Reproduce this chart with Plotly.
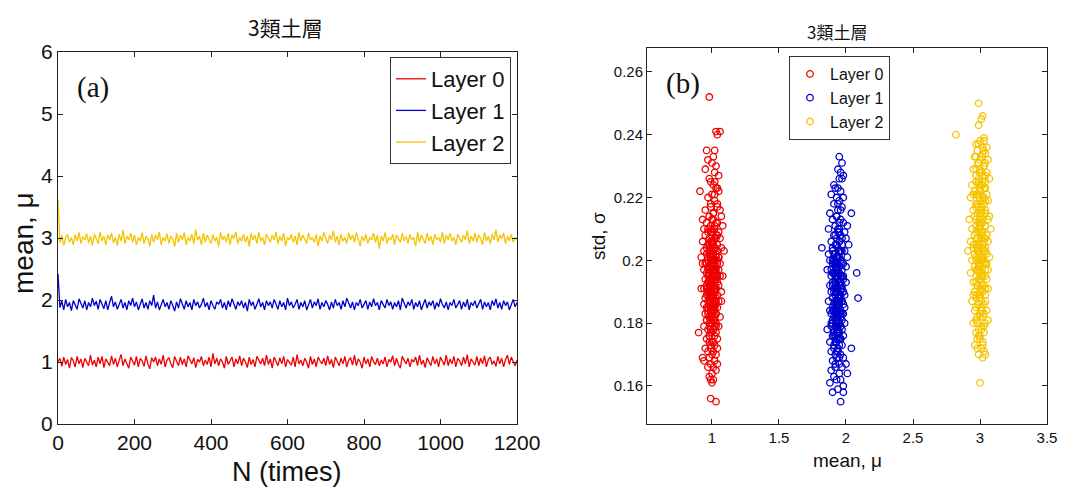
import plotly.graph_objects as go

# ---------------- data: panel (a) ----------------
N = list(range(0, 1201, 5))

layer0_mean = [
1.00,1.06,0.93,1.08,0.96,1.04,0.90,1.07,1.02,0.92,
1.09,0.97,1.05,0.91,1.06,1.00,0.94,1.11,0.95,1.03,
0.92,1.08,0.97,1.09,0.91,1.05,1.00,0.94,1.10,0.96,
1.06,0.92,1.03,1.12,0.94,1.05,0.97,0.90,1.08,1.00,
0.95,1.09,0.92,1.06,1.02,0.93,1.10,0.97,0.89,1.07,
1.00,1.08,0.94,1.05,0.96,1.11,0.92,1.03,1.07,0.97,
0.91,1.09,1.00,0.94,1.08,0.96,1.05,0.92,1.10,1.02,
0.97,1.07,0.91,1.04,1.00,1.09,0.94,1.03,0.96,1.08,
0.92,1.14,0.97,1.06,0.94,1.05,1.00,0.90,1.09,0.96,
1.03,1.08,0.92,1.05,0.97,1.10,0.94,1.06,1.00,0.91,
1.08,0.96,1.04,0.92,1.09,1.02,0.97,1.06,0.94,1.11,
0.96,1.05,0.90,1.08,1.00,0.94,1.07,0.97,1.09,0.92,
1.04,1.00,0.95,1.08,0.92,1.12,0.97,1.03,0.94,1.06,
1.00,0.90,1.09,0.96,1.05,0.92,1.08,1.02,0.97,1.06,
0.94,1.10,0.96,1.04,0.91,1.08,1.00,0.94,1.06,0.97,
1.09,0.92,1.03,1.07,0.95,1.11,0.94,1.05,1.00,0.90,
1.08,0.97,1.05,0.92,1.09,1.00,0.96,1.06,0.94,1.03,
0.97,1.08,0.92,1.04,1.00,1.10,0.94,1.06,0.96,0.90,
1.09,1.02,0.97,1.06,0.92,1.04,1.00,1.08,0.94,1.11,
0.96,1.03,0.91,1.07,1.00,0.94,1.09,0.97,1.05,0.92,
1.08,1.00,0.95,1.11,0.94,1.05,0.97,1.09,0.92,1.06,
1.02,0.94,1.08,0.97,1.12,0.92,1.05,1.00,0.95,1.09,
0.94,1.06,0.97,1.10,0.92,1.04,1.08,0.96,1.02,0.93,
1.09,0.97,1.06,0.92,1.04,1.11,0.96,1.08,1.00,0.94,
1.03]

layer1_mean = [
2.42,1.88,1.98,1.84,2.01,1.89,1.96,1.83,1.99,1.91,
1.85,2.02,1.93,1.87,1.99,1.84,1.96,1.89,2.03,1.91,
1.98,1.85,2.01,1.93,1.86,1.99,1.84,1.96,2.06,1.89,
1.97,1.85,1.93,2.01,1.87,1.96,1.84,1.99,1.91,2.03,
1.89,1.97,1.84,1.93,2.02,1.87,1.96,1.85,1.99,1.91,
2.08,1.87,1.97,1.84,1.93,2.01,1.89,1.96,1.85,1.99,
1.91,1.82,1.97,1.87,2.02,1.93,1.85,1.99,1.89,1.96,
1.84,2.01,1.91,1.97,1.87,1.93,2.03,1.89,1.96,1.84,
1.99,1.91,1.85,1.97,1.93,2.01,1.87,1.96,1.84,1.99,
1.89,2.02,1.93,1.85,1.97,1.91,1.99,1.87,1.96,1.82,
2.01,1.91,1.97,1.85,1.93,2.02,1.89,1.96,1.84,1.99,
1.91,1.97,1.87,2.01,1.93,1.85,1.99,1.89,1.96,1.84,
2.03,1.91,1.97,1.87,1.93,2.01,1.85,1.96,1.89,1.99,
1.84,1.93,2.01,1.87,1.97,1.91,2.02,1.85,1.96,1.89,
1.99,1.93,1.84,1.97,1.87,2.01,1.91,1.96,1.85,1.99,
1.89,2.03,1.93,1.87,1.97,1.84,1.96,1.91,2.01,1.87,
1.93,1.99,1.85,1.97,1.89,2.02,1.91,1.96,1.84,1.99,
1.93,1.87,2.01,1.91,1.97,1.85,1.96,1.89,1.99,1.84,
2.03,1.93,1.87,1.97,1.91,2.01,1.85,1.96,1.89,1.99,
1.84,1.93,2.01,1.87,1.97,1.91,1.99,1.85,1.96,1.89,
2.02,1.93,1.87,1.97,1.84,1.96,1.91,2.01,1.87,1.93,
1.99,1.85,1.97,1.89,2.01,1.84,1.96,1.91,1.99,1.87,
1.93,2.01,1.85,1.97,1.89,1.96,1.84,1.99,1.91,2.02,
1.87,1.96,1.85,1.99,1.91,1.97,1.84,1.93,2.01,1.89,
1.96]

layer2_mean = [
3.62,2.92,3.04,2.88,3.00,3.06,2.93,3.01,2.89,3.05,
2.95,3.09,2.91,3.02,2.97,3.07,2.92,3.03,2.88,3.06,
2.99,2.91,3.10,2.95,3.03,2.89,3.05,2.97,3.08,2.92,
3.01,2.88,3.06,2.95,3.13,2.91,3.03,2.97,3.08,2.93,
3.05,2.89,3.01,2.95,3.09,2.91,3.03,2.99,2.87,3.06,
2.93,3.05,2.97,3.10,2.89,3.01,2.95,3.07,2.91,3.03,
2.99,2.86,3.08,2.93,3.05,2.97,3.09,2.89,3.01,2.95,
3.06,2.91,3.14,2.97,3.03,2.89,3.08,2.93,3.05,2.99,
2.91,3.06,2.95,3.01,2.87,3.09,2.97,3.03,2.93,3.08,
2.89,3.05,2.99,3.10,2.91,3.01,2.95,3.06,2.93,3.03,
2.86,3.08,2.97,3.05,2.91,3.09,2.95,3.01,2.89,3.06,
2.99,2.93,3.05,2.97,3.10,2.91,3.03,2.95,3.08,2.87,
3.01,2.97,3.06,2.93,3.03,2.89,3.09,2.95,3.05,2.99,
2.91,3.08,2.97,3.01,2.93,3.06,2.87,3.03,2.95,3.09,
2.99,2.91,3.05,2.97,3.12,2.93,3.03,2.89,3.06,2.95,
3.01,2.91,3.08,2.97,3.05,2.93,3.09,2.99,2.87,3.03,
2.95,3.06,2.91,3.01,2.97,3.08,2.93,3.05,2.83,3.03,
2.95,3.09,2.91,3.01,2.97,3.06,2.89,3.05,2.99,2.93,
3.08,2.95,3.03,2.91,3.06,2.97,3.01,2.87,3.09,2.93,
3.05,2.99,2.91,3.08,2.95,3.03,2.89,3.06,2.97,3.01,
2.93,3.10,2.91,3.05,2.97,3.08,2.95,3.01,2.89,3.06,
2.99,2.93,3.05,2.97,3.12,2.91,3.03,2.95,3.08,2.93,
3.05,2.99,2.89,3.09,2.95,3.03,2.91,3.06,2.97,3.13,
2.93,3.05,2.99,3.08,2.91,3.03,2.95,3.06,2.93,3.01,
2.97]

# ---------------- data: panel (b) ----------------
mu0 = [
0.98,1.03,1.04,1.06,0.96,1.02,0.97,1.00,1.01,1.03,
0.95,1.02,1.05,0.98,0.99,1.01,1.03,0.91,1.05,1.00,
0.97,1.02,0.99,1.04,1.06,0.95,1.01,1.07,0.98,0.93,
1.01,0.96,1.04,0.99,1.08,0.94,1.02,1.00,0.97,1.05,
1.00,1.03,0.95,0.98,1.02,1.06,0.99,1.01,0.93,1.04,
0.97,1.00,1.02,0.96,1.07,0.99,1.01,0.94,1.04,1.00,
0.98,1.03,0.96,1.01,0.99,1.05,0.92,1.00,1.02,0.97,
1.04,0.99,1.01,0.95,1.06,1.00,0.97,1.03,0.98,1.02,
0.99,0.94,1.05,1.01,0.98,1.03,0.96,1.00,1.02,0.97,
1.06,0.99,1.01,0.95,1.03,1.00,0.97,1.04,0.98,1.02,
0.99,0.96,1.05,1.01,0.98,1.03,0.94,1.00,1.02,0.97,
1.07,0.99,1.01,0.96,1.04,1.00,0.98,1.03,0.95,1.02,
0.99,0.97,1.05,1.01,0.98,1.03,0.94,1.00,1.02,0.96,
1.04,0.99,1.01,0.97,1.03,1.00,0.95,1.02,0.98,1.06,
0.99,1.01,0.96,1.03,1.00,0.98,1.02,0.94,1.05,0.99,
1.01,0.97,1.03,0.99,0.90,1.02,0.98,1.04,0.96,1.00,
0.98,1.02,0.99,1.04,0.95,1.01,0.97,1.03,1.00,0.98,
0.93,1.02,0.94,0.99,1.04,1.01,0.97,1.03,1.00,0.98,
0.99,1.01,1.00,0.99,1.03,1.08,0.93,1.09,0.92,1.07,
1.01,0.99,1.02,1.00,1.01,0.99,1.00,1.01,1.00,0.99,
1.02,0.99,1.03,1.00,1.02,0.98,1.01,1.03,0.99,1.01,
1.00,1.02,0.98,1.01,1.03,0.99,1.00,1.02,0.98,1.01,
1.00,0.98,1.02,0.99,1.01,1.00,0.98,1.02,1.00,0.99,
0.97,1.04,0.98,1.04,0.97,1.04,0.97,1.04,0.97,1.03,
0.97,1.03,0.97,1.03,0.96,1.03,1.00,0.98,1.01,0.99,
1.00,0.99,1.00,1.00,0.99,1.00,1.00,1.02,1.01,1.02,
1.01,1.02,0.99,0.98,1.01,1.01,1.03,1.01,1.04,1.02,
1.04,1.02,0.99,1.00,0.96,0.96,0.99,0.97,1.03,1.05]
sd0 = [
0.252,0.241,0.240,0.241,0.235,0.235,0.232,0.231,0.233,0.230,
0.229,0.228,0.227,0.226,0.225,0.224,0.223,0.222,0.222,0.221,
0.220,0.219,0.218,0.217,0.216,0.216,0.215,0.214,0.214,0.213,
0.213,0.212,0.212,0.211,0.211,0.210,0.210,0.210,0.209,0.209,
0.208,0.208,0.208,0.207,0.207,0.207,0.206,0.206,0.206,0.205,
0.205,0.205,0.204,0.204,0.204,0.203,0.203,0.203,0.203,0.202,
0.202,0.202,0.202,0.201,0.201,0.201,0.201,0.200,0.200,0.200,
0.200,0.199,0.199,0.199,0.199,0.198,0.198,0.198,0.198,0.197,
0.197,0.197,0.197,0.196,0.196,0.196,0.196,0.195,0.195,0.195,
0.195,0.194,0.194,0.194,0.194,0.193,0.193,0.193,0.193,0.192,
0.192,0.192,0.192,0.191,0.191,0.191,0.191,0.190,0.190,0.190,
0.190,0.189,0.189,0.189,0.189,0.188,0.188,0.188,0.188,0.187,
0.187,0.187,0.187,0.186,0.186,0.186,0.186,0.185,0.185,0.185,
0.185,0.184,0.184,0.184,0.183,0.183,0.183,0.182,0.182,0.182,
0.181,0.181,0.181,0.180,0.180,0.180,0.179,0.179,0.179,0.178,
0.178,0.178,0.177,0.177,0.177,0.176,0.176,0.175,0.175,0.174,
0.174,0.173,0.173,0.172,0.172,0.171,0.171,0.170,0.170,0.169,
0.169,0.168,0.168,0.167,0.167,0.166,0.166,0.165,0.164,0.163,
0.162,0.162,0.161,0.156,0.155,0.195,0.199,0.203,0.191,0.187,
0.197,0.201,0.193,0.189,0.205,0.184,0.209,0.200,0.196,0.192,
0.211,0.209,0.207,0.206,0.204,0.203,0.202,0.201,0.200,0.199,
0.198,0.197,0.196,0.195,0.194,0.193,0.192,0.191,0.190,0.189,
0.188,0.187,0.186,0.185,0.184,0.183,0.182,0.181,0.180,0.179,
0.210,0.208,0.205,0.203,0.201,0.199,0.197,0.195,0.193,0.191,
0.189,0.187,0.185,0.183,0.181,0.179,0.177,0.176,0.174,0.172,
0.206,0.202,0.198,0.194,0.190,0.186,0.182,0.200,0.196,0.192,
0.188,0.184,0.204,0.195,0.185,0.178,0.212,0.215,0.218,0.221,
0.223,0.225,0.217,0.213,0.199,0.191,0.187,0.183,0.197,0.201]

mu1 = [
1.95,1.97,1.94,1.96,1.98,1.95,1.97,1.91,1.92,1.94,
1.96,1.89,1.93,1.98,1.95,1.91,1.97,1.94,2.04,1.88,
1.93,1.96,1.90,1.98,1.92,2.01,1.95,1.87,1.94,1.99,
1.91,1.96,1.93,2.00,1.89,1.95,1.92,1.97,2.02,1.82,
1.94,1.90,1.96,1.99,1.92,1.87,1.95,1.93,2.01,1.91,
1.96,1.88,1.93,1.98,1.90,1.95,1.92,2.00,1.94,1.86,
1.97,1.91,1.95,2.08,1.93,1.89,1.98,1.96,1.92,1.94,
1.90,1.95,2.00,1.93,1.88,1.97,1.94,1.91,1.96,1.93,
1.98,1.89,1.92,1.95,1.99,1.94,1.90,2.09,1.96,1.93,
1.87,1.97,1.91,1.95,1.93,1.99,1.90,1.94,1.96,1.92,
1.88,1.95,1.93,1.98,1.91,1.96,1.94,1.90,1.97,1.93,
1.95,1.89,1.99,1.92,1.96,1.94,1.86,1.97,1.91,1.95,
1.93,1.98,1.90,1.94,1.96,1.88,1.92,1.97,1.95,1.91,
2.04,1.94,1.89,1.96,1.92,1.98,1.93,1.90,1.95,2.00,
1.92,1.97,1.89,1.95,2.01,1.91,1.96,1.93,1.88,1.98,
1.94,1.90,1.98,1.96,1.93,1.94,1.92,1.93,1.94,1.92,
1.95,1.93,1.92,1.94,1.93,1.95,1.94,1.92,1.94,1.95,
1.93,1.92,1.91,1.96,1.94,1.95,1.93,1.92,1.94,1.93,
1.94,1.92,1.95,1.93,1.96,1.91,1.94,1.96,1.92,1.95,
1.93,1.91,1.96,1.94,1.92,1.95,1.93,1.91,1.96,1.94,
1.92,1.95,1.93,1.91,1.96,1.94,1.92,1.95,1.93,1.91,
1.94,1.92,1.95,1.93,1.91,1.94,1.90,1.90,1.90,1.90,
1.90,1.90,1.90,1.91,1.97,1.97,1.97,1.97,1.97,1.97,
1.97,1.96,1.96,1.935,1.935,1.935,1.935,1.935,1.935,1.92,
1.95,1.94,1.93,1.94,1.92,1.93,1.95,1.93,1.95,1.92,
1.95,1.93,1.96,1.94,1.89,1.98,1.89,1.98,1.98,1.89]
sd1 = [
0.233,0.231,0.229,0.228,0.227,0.226,0.226,0.224,0.223,0.223,
0.222,0.221,0.220,0.220,0.219,0.218,0.217,0.216,0.215,0.215,
0.214,0.213,0.213,0.212,0.211,0.211,0.210,0.210,0.209,0.209,
0.208,0.208,0.207,0.207,0.206,0.206,0.205,0.205,0.205,0.204,
0.204,0.203,0.203,0.203,0.202,0.202,0.201,0.201,0.201,0.200,
0.200,0.200,0.199,0.199,0.199,0.198,0.198,0.198,0.197,0.197,
0.197,0.196,0.196,0.196,0.195,0.195,0.195,0.194,0.194,0.194,
0.193,0.193,0.193,0.192,0.192,0.192,0.191,0.191,0.191,0.190,
0.190,0.190,0.189,0.189,0.189,0.188,0.188,0.188,0.188,0.187,
0.187,0.187,0.186,0.186,0.186,0.185,0.185,0.185,0.184,0.184,
0.184,0.183,0.183,0.183,0.182,0.182,0.182,0.181,0.181,0.181,
0.180,0.180,0.180,0.179,0.179,0.179,0.178,0.178,0.177,0.177,
0.177,0.176,0.176,0.175,0.175,0.174,0.174,0.173,0.173,0.172,
0.172,0.171,0.171,0.170,0.170,0.169,0.169,0.168,0.167,0.167,
0.166,0.166,0.165,0.164,0.164,0.163,0.162,0.162,0.161,0.160,
0.159,0.158,0.158,0.155,0.199,0.195,0.191,0.187,0.183,0.193,
0.189,0.197,0.185,0.201,0.181,0.203,0.179,0.195,0.191,0.187,
0.175,0.183,0.199,0.193,0.186,0.177,0.205,0.189,0.196,0.180,
0.210,0.208,0.206,0.205,0.203,0.202,0.201,0.200,0.199,0.198,
0.197,0.196,0.195,0.194,0.193,0.192,0.191,0.190,0.189,0.188,
0.187,0.186,0.185,0.184,0.183,0.182,0.181,0.180,0.179,0.178,
0.177,0.176,0.175,0.174,0.173,0.172,0.204,0.200,0.196,0.192,
0.188,0.184,0.180,0.176,0.207,0.203,0.199,0.195,0.191,0.187,
0.183,0.179,0.175,0.198,0.194,0.190,0.186,0.182,0.178,0.196,
0.188,0.181,0.201,0.185,0.193,0.177,0.209,0.171,0.169,0.167,
0.212,0.214,0.216,0.218,0.183,0.190,0.197,0.186,0.194,0.179]

mu2 = [
2.99,3.02,3.01,2.99,2.82,3.00,3.03,2.97,3.02,3.05,
2.98,3.04,2.96,3.01,3.06,2.99,3.03,2.95,3.00,3.05,
2.97,3.02,3.07,2.99,3.04,2.94,3.01,3.03,2.96,3.00,
3.05,2.98,3.02,2.93,3.00,3.06,2.97,3.03,2.99,3.01,
2.95,3.04,3.00,2.98,3.07,2.96,3.02,2.92,3.01,2.99,
3.04,2.97,3.00,3.08,2.94,3.02,2.99,3.05,2.96,3.01,
2.98,3.03,2.93,3.00,3.06,2.97,3.02,2.99,3.04,2.95,
3.01,2.98,3.03,2.91,3.00,3.05,2.96,3.02,2.99,3.07,
2.97,3.01,2.94,3.03,2.99,3.05,3.00,2.96,3.02,2.98,
3.04,2.93,3.00,3.02,2.97,3.05,2.99,3.01,2.95,3.03,
2.98,3.00,3.06,2.96,3.02,2.99,3.04,2.97,3.01,2.94,
3.03,2.99,3.01,2.96,3.05,3.00,2.98,3.02,2.97,3.04,
2.95,3.01,2.99,3.03,2.97,3.00,2.98,3.02,2.96,3.01,
2.98,3.03,2.99,3.04,3.02,3.00,3.01,2.99,3.00,3.01,
3.00,3.01,3.02,3.00,3.01,2.99,3.01,3.00,3.01,2.99,
3.01,2.99,3.02,3.00,3.01,3.02,2.98,3.00,3.02,3.00,
3.02,3.00,3.03,3.01,2.99,3.02,3.00,3.03,2.98,3.01,
3.00,3.02,2.99,3.01,3.03,2.98,3.00,3.02,2.99,3.01,
3.00,2.98,3.02,3.00,2.99,3.01,3.00,2.98,3.01,2.99,
2.97,2.97,2.97,2.97,2.97,2.97,2.97,2.97,2.97,2.97,
2.97,2.97,2.97,3.04,3.04,3.04,3.04,3.04,3.04,3.04,
3.04,3.04,3.04,3.04,3.04,3.03,3.03,2.995,2.995,2.995,
2.995,2.995,2.995,2.995,3.015,3.015,3.015,3.015,2.985,3.03,
2.99,3.03,2.95,3.06,2.95,3.06,2.95,3.06,3.00,3.02]
sd2 = [
0.250,0.246,0.245,0.243,0.240,0.238,0.238,0.237,0.236,0.236,
0.235,0.234,0.233,0.233,0.232,0.231,0.230,0.229,0.229,0.228,
0.227,0.227,0.226,0.225,0.225,0.224,0.224,0.223,0.222,0.222,
0.221,0.221,0.220,0.220,0.219,0.219,0.218,0.218,0.217,0.217,
0.216,0.216,0.215,0.215,0.214,0.214,0.213,0.213,0.212,0.212,
0.211,0.211,0.210,0.210,0.210,0.209,0.209,0.208,0.208,0.208,
0.207,0.207,0.206,0.206,0.206,0.205,0.205,0.205,0.204,0.204,
0.204,0.203,0.203,0.203,0.202,0.202,0.202,0.201,0.201,0.201,
0.200,0.200,0.200,0.199,0.199,0.199,0.198,0.198,0.198,0.197,
0.197,0.196,0.196,0.195,0.195,0.194,0.194,0.193,0.193,0.192,
0.192,0.191,0.191,0.190,0.190,0.189,0.189,0.188,0.187,0.187,
0.186,0.186,0.185,0.184,0.184,0.183,0.182,0.182,0.181,0.180,
0.180,0.179,0.178,0.177,0.177,0.176,0.175,0.174,0.173,0.172,
0.172,0.171,0.170,0.170,0.169,0.161,0.207,0.203,0.199,0.195,
0.211,0.215,0.219,0.223,0.191,0.205,0.209,0.213,0.201,0.197,
0.217,0.221,0.225,0.189,0.185,0.203,0.207,0.211,0.195,0.200,
0.234,0.232,0.230,0.228,0.226,0.224,0.222,0.220,0.218,0.216,
0.214,0.212,0.210,0.208,0.206,0.204,0.202,0.200,0.198,0.196,
0.194,0.192,0.190,0.188,0.186,0.184,0.182,0.180,0.178,0.176,
0.233,0.229,0.225,0.221,0.217,0.213,0.209,0.205,0.201,0.197,
0.193,0.189,0.185,0.231,0.227,0.223,0.219,0.215,0.211,0.207,
0.203,0.199,0.195,0.191,0.187,0.183,0.179,0.228,0.224,0.220,
0.212,0.204,0.196,0.188,0.216,0.200,0.192,0.184,0.231,0.239,
0.237,0.235,0.221,0.213,0.205,0.197,0.189,0.181,0.175,0.173]

layer_names = ["Layer 0", "Layer 1", "Layer 2"]
colors = ["#ee0000", "#0000cc", "#f5c400"]
title_text = "3類土層"

# ---------------- figure ----------------
fig = go.Figure()
for name, ys, c in zip(layer_names, [layer0_mean, layer1_mean, layer2_mean], colors):
    fig.add_trace(go.Scatter(x=N, y=ys, mode="lines", name=name,
                             line=dict(color=c, width=1.3), xaxis="x", yaxis="y",
                             legend="legend"))
for name, xs, ys, c in zip(layer_names, [mu0, mu1, mu2], [sd0, sd1, sd2], colors):
    fig.add_trace(go.Scatter(x=xs, y=ys, mode="markers", name=name,
                             marker=dict(symbol="circle-open", size=6.5, color=c,
                                         line=dict(width=1.3, color=c)),
                             xaxis="x2", yaxis="y2", legend="legend2"))

W, H = 1076, 488
def px_x(p): return p / W
def px_y(p): return 1 - p / H

axis_common = dict(showgrid=False, zeroline=False, showline=True, linecolor="#222",
                   linewidth=1, mirror="allticks", ticks="inside", tickcolor="#222",
                   ticklen=5, automargin=False)

fig.update_layout(
    width=W, height=H, margin=dict(l=0, r=0, t=0, b=0, autoexpand=False),
    paper_bgcolor="white", plot_bgcolor="white",
    font=dict(family="Liberation Sans, Arial", color="#111"),
    xaxis=dict(domain=[px_x(58), px_x(517)], range=[0, 1200], tickvals=[0, 200, 400, 600, 800, 1000, 1200],
               tickfont=dict(size=21), anchor="y", **axis_common),
    yaxis=dict(domain=[px_y(424), px_y(52)], range=[0, 6], tickvals=[0, 1, 2, 3, 4, 5, 6],
               tickfont=dict(size=21), anchor="x", **axis_common),
    xaxis2=dict(domain=[px_x(647), px_x(1047)], range=[0.515, 3.5], tickvals=[1, 1.5, 2, 2.5, 3, 3.5],
                tickfont=dict(size=15), anchor="y2", **axis_common),
    yaxis2=dict(domain=[px_y(424), px_y(48)], range=[0.1479, 0.2676],
                tickvals=[0.16, 0.18, 0.2, 0.22, 0.24, 0.26],
                tickfont=dict(size=15), anchor="x2", **axis_common),
    legend=dict(x=px_x(511), xanchor="right", y=px_y(57), yanchor="top",
                bordercolor="#333", borderwidth=1, bgcolor="white",
                font=dict(size=22), tracegroupgap=0),
    legend2=dict(x=px_x(890), xanchor="right", y=px_y(56), yanchor="top",
                 bordercolor="#333", borderwidth=1, bgcolor="white",
                 font=dict(size=16), tracegroupgap=0),
    showlegend=True,
)

def note(text, x, y, size, family="Liberation Sans, Arial", angle=0, xanchor="center"):
    fig.add_annotation(text=text, x=px_x(x), y=px_y(y), xref="paper", yref="paper",
                       xanchor=xanchor, yanchor="middle", textangle=angle, showarrow=False,
                       font=dict(size=size, family=family, color="#111"))

note(title_text, 285, 27, 21, family="Noto Sans CJK TC")
note(title_text, 837, 32, 17, family="Noto Sans CJK TC")
note("(a)", 75, 87, 29, family="Liberation Serif", xanchor="left")
note("(b)", 664, 83, 29, family="Liberation Serif", xanchor="left")
note("N (times)", 287, 472, 27)
note("mean, μ", 23, 243, 28, angle=-90)
note("mean, μ", 847, 460, 19)
note("std, σ", 598, 236, 19, angle=-90)

fig.write_html("out.html")
